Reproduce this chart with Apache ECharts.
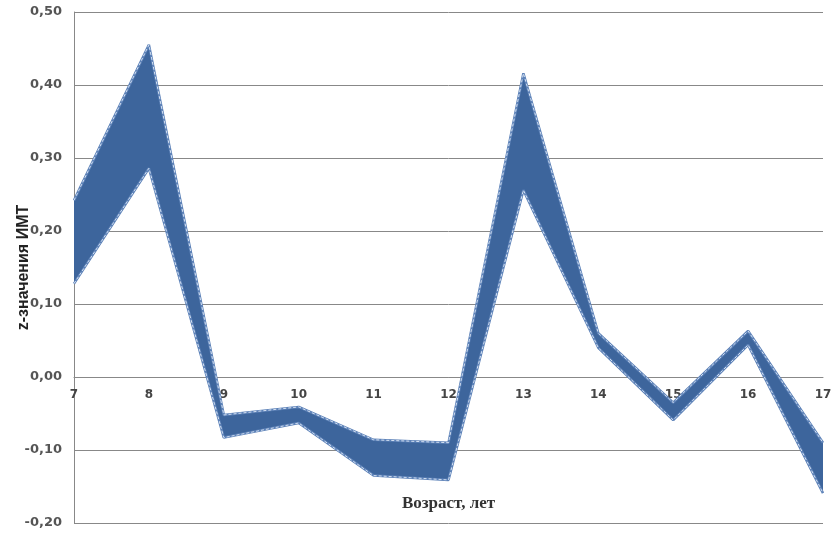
<!DOCTYPE html>
<html>
<head>
<meta charset="utf-8">
<script src="https://cdn.jsdelivr.net/npm/echarts@6/dist/echarts.min.js"></script>
<style>
  html, body { margin: 0; padding: 0; background: #fff; }
  #chart { width: 833px; height: 533px; }
</style>
</head>
<body>
<div id="chart"></div>
<script>
// возраст, лет
var ages = ['7', '8', '9', '10', '11', '12', '13', '14', '15', '16', '17'];
// верхняя и нижняя границы z-значений ИМТ
var upper = [0.242, 0.455, -0.052, -0.041, -0.086, -0.090, 0.416, 0.060, -0.035, 0.063, -0.090];
var lower = [0.128, 0.286, -0.083, -0.063, -0.135, -0.141, 0.256, 0.040, -0.059, 0.044, -0.159];

var band = upper.map(function (u, i) { return +(u - lower[i]).toFixed(3); });

var chart = echarts.init(document.getElementById('chart'));

// кайма по краям полосы + светлый пунктир поверх
var edge = function (name, data, color, width, type, z) {
    return {
        name: name,
        type: 'line',
        data: data,
        symbol: 'none',
        z: z,
        lineStyle: { color: color, width: width, type: type }
    };
};

// ось X подписана на уровне нуля: 0,20 деления ниже нуля = 146 px
option = {
    animation: false,
    grid: { left: 74, right: 10, top: 12, bottom: 10, outerBoundsMode: 'none' },
    xAxis: {
        type: 'category',
        data: ages,
        boundaryGap: false,
        offset: -146,
        name: 'Возраст, лет',
        nameLocation: 'middle',
        nameGap: 118,
        nameMoveOverlap: false,
        nameTextStyle: { fontFamily: 'Liberation Serif', fontWeight: 'bold', fontSize: 17, color: '#333' },
        axisLine: { onZero: false, lineStyle: { color: '#888' } },
        axisTick: { show: false },
        axisLabel: { fontFamily: 'DejaVu Sans', fontSize: 12, fontWeight: 'bold', color: '#444', margin: 12 }
    },
    yAxis: {
        type: 'value',
        min: -0.2,
        max: 0.5,
        interval: 0.1,
        name: 'z-значения ИМТ',
        nameLocation: 'middle',
        nameGap: 42,
        nameMoveOverlap: false,
        nameTextStyle: { fontFamily: 'Liberation Sans', fontWeight: 'bold', fontSize: 16, color: '#222' },
        axisLine: { show: true, lineStyle: { color: '#888' } },
        axisTick: { show: false },
        axisLabel: {
            fontFamily: 'DejaVu Sans', fontSize: 13, fontWeight: 'bold', color: '#555', margin: 12,
            formatter: function (v) { return v.toFixed(2).replace('.', ','); }
        },
        splitLine: { lineStyle: { color: '#888', width: 1 } }
    },
    series: [
        {
            name: 'base',
            type: 'line',
            stack: 'b',
            stackStrategy: 'all',
            data: lower,
            symbol: 'none',
            lineStyle: { opacity: 0 }
        },
        {
            name: 'band',
            type: 'line',
            stack: 'b',
            stackStrategy: 'all',
            data: band,
            symbol: 'none',
            lineStyle: { opacity: 0 },
            areaStyle: { color: '#3d659c', opacity: 1 },
            z: 3
        },
        edge('upper', upper, '#5d82b8', 2.5, 'solid', 4),
        edge('lower', lower, '#5d82b8', 2.5, 'solid', 4),
        edge('upper-d', upper, '#d3e0f2', 1, [3, 2], 5),
        edge('lower-d', lower, '#d3e0f2', 1, [3, 2], 5)
    ]
};
chart.setOption(option);
</script>
</body>
</html>
